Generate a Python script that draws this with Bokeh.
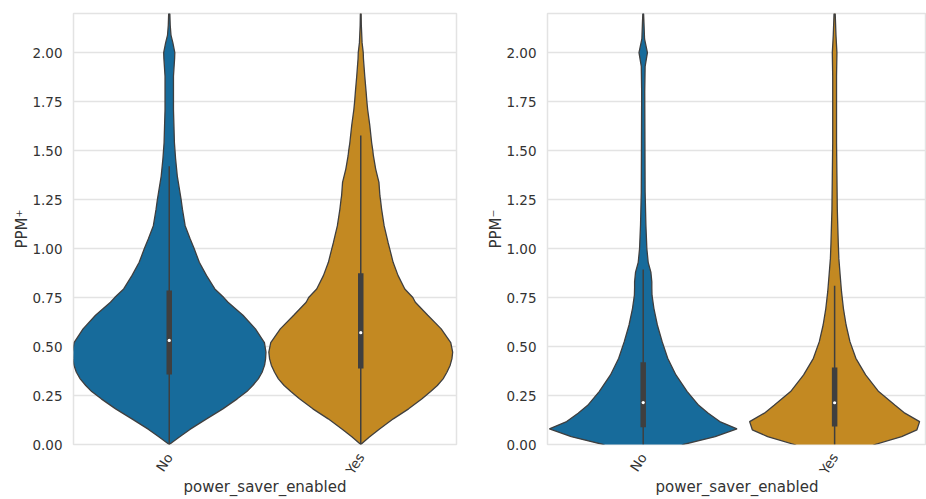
from bokeh.plotting import figure
from bokeh.models import Range1d, FixedTicker, NumeralTickFormatter, Spacer
from bokeh.layouts import row
from bokeh.embed import file_html
from bokeh.resources import INLINE

# ---------------- data ----------------
categories = ["No", "Yes"]
x_label = "power_saver_enabled"
y_ticks = [0.0, 0.25, 0.5, 0.75, 1.0, 1.25, 1.5, 1.75, 2.0]

# PPM+ panel : violin profiles (y value, half-width in category units)
plus_no_y = [0.0, 0.038, 0.077, 0.131, 0.182, 0.233, 0.27, 0.301, 0.335, 0.369, 0.405, 0.437, 0.471, 0.52, 0.59, 0.66,
             0.726, 0.75, 0.794, 0.862, 0.93, 1.0, 1.05, 1.117, 1.2, 1.25, 1.37, 1.46, 1.5, 1.54,
             1.71, 1.75, 1.88, 1.97, 2.0, 2.05, 2.09, 2.14, 2.2]
plus_no_w = [0.0, 0.053, 0.108, 0.195, 0.28, 0.355, 0.405, 0.436, 0.465, 0.485, 0.498, 0.503, 0.505, 0.497, 0.45, 0.385,
             0.307, 0.285, 0.238, 0.195, 0.157, 0.13, 0.109, 0.083, 0.069, 0.062, 0.042, 0.033, 0.03, 0.027,
             0.022, 0.022, 0.022, 0.028, 0.029, 0.019, 0.009, 0.005, 0.003]
plus_yes_y = [0.0, 0.038, 0.077, 0.131, 0.182, 0.233, 0.27, 0.301, 0.335, 0.369, 0.405, 0.437, 0.471, 0.52, 0.59, 0.66,
              0.726, 0.75, 0.794, 0.862, 0.93, 1.0, 1.03, 1.117, 1.2, 1.25, 1.27, 1.338, 1.406, 1.474,
              1.5, 1.54, 1.63, 1.71, 1.75, 1.8, 1.88, 1.97, 2.0, 2.05, 2.14, 2.2]
plus_yes_w = [0.0, 0.045, 0.095, 0.17, 0.25, 0.32, 0.365, 0.40, 0.43, 0.45, 0.467, 0.476, 0.48, 0.47, 0.42, 0.35,
              0.285, 0.272, 0.23, 0.195, 0.169, 0.151, 0.143, 0.122, 0.109, 0.103, 0.10, 0.095, 0.078, 0.066,
              0.063, 0.057, 0.047, 0.036, 0.032, 0.028, 0.021, 0.014, 0.013, 0.007, 0.003, 0.002]

# PPM- panel
minus_no_y = [-0.05, 0.0, 0.04, 0.08, 0.117, 0.16, 0.2, 0.27, 0.355, 0.44, 0.525, 0.61, 0.694,
              0.762, 0.80, 0.83, 0.88, 0.93, 1.0, 1.12, 1.29, 1.54, 1.8, 1.93, 2.0, 2.07, 2.15, 2.2]
minus_no_w = [0.12, 0.21, 0.376, 0.49, 0.40, 0.34, 0.29, 0.23, 0.171, 0.128, 0.099, 0.074, 0.056,
              0.046, 0.045, 0.045, 0.04, 0.026, 0.019, 0.014, 0.01, 0.009, 0.008, 0.01, 0.022, 0.007, 0.004, 0.002]
minus_yes_y = [-0.05, 0.0, 0.04, 0.075, 0.117, 0.16, 0.2, 0.27, 0.355, 0.44, 0.525, 0.61, 0.694,
               0.78, 0.864, 0.95, 1.03, 1.2, 1.37, 1.54, 1.71, 1.88, 2.0, 2.09, 2.2]
minus_yes_w = [0.12, 0.21, 0.35, 0.43, 0.444, 0.367, 0.316, 0.23, 0.162, 0.111, 0.08, 0.06, 0.046,
               0.036, 0.029, 0.022, 0.019, 0.014, 0.012, 0.01, 0.01, 0.01, 0.012, 0.007, 0.003]

# inner boxes: [low whisker, q1, median, q3, high whisker]
plus_no_box = [0.0, 0.357, 0.531, 0.786, 1.42]
plus_yes_box = [0.0, 0.388, 0.571, 0.874, 1.577]
minus_no_box = [0.0, 0.088, 0.214, 0.42, 0.893]
minus_yes_box = [0.0, 0.092, 0.213, 0.393, 0.81]

colors = ["#176b9b", "#c38922"]
edge = "#3f3f3f"
grid_col = "#e3e3e3"
text_col = "#333333"
FONT = "DejaVu Sans"


def make_panel(ylabel, profiles, boxes, width, bl, br, x_end):
    p = figure(width=width, height=499, x_range=Range1d(-0.5, x_end), y_range=Range1d(0, 2.2),
               output_backend="svg", toolbar_location=None,
               min_border_left=bl, min_border_right=br, min_border_top=13, min_border_bottom=10)
    p.outline_line_color = grid_col
    p.outline_line_width = 1.5
    p.xgrid.grid_line_color = None
    p.ygrid.grid_line_color = grid_col
    p.ygrid.grid_line_width = 1.5

    for i, (ys, ws) in enumerate(profiles):
        xs = [i + w for w in ws] + [i - w for w in reversed(ws)]
        yy = list(ys) + list(reversed(ys))
        p.patch(xs, yy, fill_color=colors[i], line_color=edge, line_width=1.3)

    for i, b in enumerate(boxes):
        p.segment(x0=[i], y0=[b[0]], x1=[i], y1=[b[4]], line_color=edge, line_width=1.5)
        p.segment(x0=[i], y0=[b[1]], x1=[i], y1=[b[3]], line_color=edge, line_width=5.5)
        p.scatter(x=[i], y=[b[2]], size=3.2, fill_color="white", line_color=None)

    p.xaxis.ticker = FixedTicker(ticks=list(range(len(categories))))
    p.xaxis.major_label_overrides = {i: c for i, c in enumerate(categories)}
    p.xaxis.major_label_orientation = 1.0
    p.yaxis.ticker = FixedTicker(ticks=y_ticks)
    p.yaxis.formatter = NumeralTickFormatter(format="0.00")
    p.xaxis.axis_label = x_label
    p.yaxis.axis_label = ylabel
    for ax in (p.xaxis, p.yaxis):
        ax.axis_line_color = None
        ax.major_tick_line_color = None
        ax.minor_tick_line_color = None
        ax.major_label_text_font = FONT
        ax.major_label_text_font_size = "13.5px"
        ax.major_label_text_color = text_col
        ax.axis_label_text_font = FONT
        ax.axis_label_text_font_size = "15px"
        ax.axis_label_text_font_style = "normal"
        ax.axis_label_text_color = text_col
        ax.major_label_standoff = 5
    p.yaxis.axis_label_standoff = -2
    p.xaxis.major_label_standoff = 4
    p.xaxis.axis_label_standoff = -6
    return p


p1 = make_panel("PPM\u207a", [(plus_no_y, plus_no_w), (plus_yes_y, plus_yes_w)],
                [plus_no_box, plus_yes_box], 474, 57, 28, 1.5)
p2 = make_panel("PPM\u207b", [(minus_no_y, minus_no_w), (minus_yes_y, minus_yes_w)],
                [minus_no_box, minus_yes_box], 442, 57, 0, 1.48)

layout = row(Spacer(width=10, height=499), p1, p2)
open("out.html", "w").write(file_html(layout, INLINE))
